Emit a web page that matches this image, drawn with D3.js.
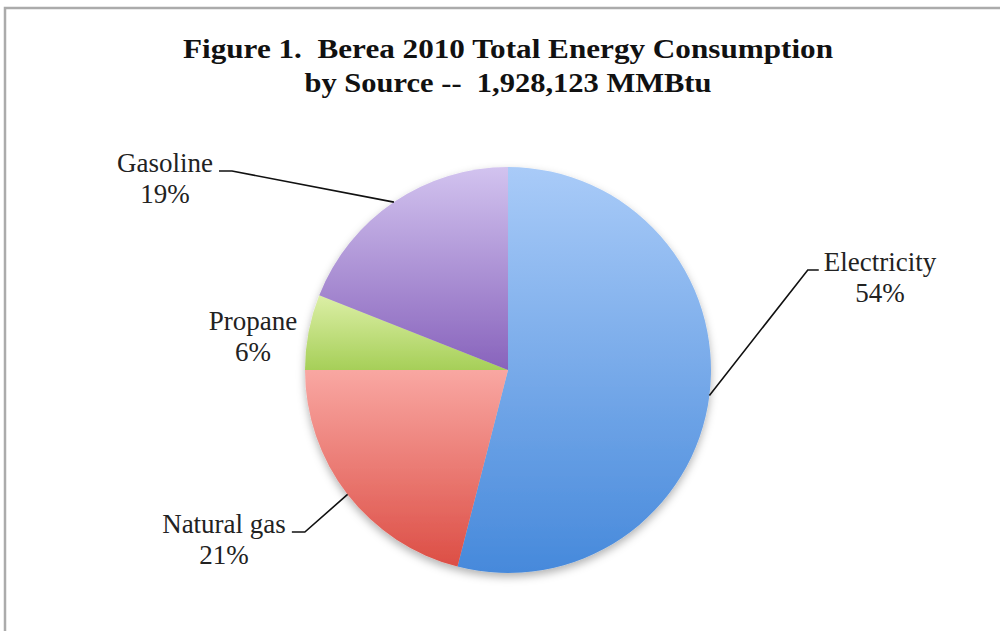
<!DOCTYPE html>
<html>
<head>
<meta charset="utf-8">
<script src="https://cdn.jsdelivr.net/npm/d3@7"></script>
<style>
    body { margin: 0; background: #fff; }
    svg { display: block; }
    .title { font-family: "Liberation Serif", serif; font-weight: bold; font-size: 27px; fill: #111; white-space: pre; }
    .label { font-family: "Liberation Serif", serif; font-size: 27px; fill: #222; }
</style>
</head>
<body>
<script>
    // Chart data
    var sources = ["Electricity", "Natural gas", "Propane", "Gasoline"];
    var shares = [54, 21, 6, 19];
    var titleLines = ["Figure 1.  Berea 2010 Total Energy Consumption", "by Source --  1,928,123 MMBtu"];

    // Gradient colours per slice (top, bottom)
    var topColors = ["#a9cbf8", "#f9a7a2", "#dcefa6", "#d2c3ef"];
    var bottomColors = ["#4689db", "#dc4e45", "#a6cf58", "#8863bc"];

    // Label layout: centre x, first baseline, side of leader
    var labelX = [880, 224, 253, 165];
    var labelY = [271, 533, 330, 172];
    var labelSide = ["right", "left", "none", "left"];

    var width = 1000, height = 631;
    var cx = 508, cy = 370, radius = 203;

    var svg = d3.select("body").append("svg")
        .attr("width", width)
        .attr("height", height);

    // Outer frame (only top and left edges show)
    svg.append("rect")
        .attr("x", 5)
        .attr("y", 8)
        .attr("width", 1100)
        .attr("height", 800)
        .attr("fill", "none")
        .attr("stroke", "#ababab")
        .attr("stroke-width", 2.5);

    var defs = svg.append("defs");

    // Soft shadow under the pie
    var shadow = defs.append("filter")
        .attr("id", "shadow")
        .attr("x", "-20%").attr("y", "-20%")
        .attr("width", "140%").attr("height", "140%");
    shadow.append("feDropShadow")
        .attr("dx", 0)
        .attr("dy", 4)
        .attr("stdDeviation", 4)
        .attr("flood-color", "#000")
        .attr("flood-opacity", 0.3);

    sources.forEach(function (s, i) {
        var g = defs.append("linearGradient")
            .attr("id", "grad" + i)
            .attr("x1", 0).attr("y1", 0)
            .attr("x2", 0).attr("y2", 1);
        g.append("stop").attr("offset", "0%").attr("stop-color", topColors[i]);
        g.append("stop").attr("offset", "100%").attr("stop-color", bottomColors[i]);
    });

    // Title, fitted to the width it has in the figure
    var titleWidths = [650, 407];
    svg.selectAll(".title")
        .data(titleLines)
        .enter()
        .append("text")
        .attr("class", "title")
        .attr("x", 508)
        .attr("y", function (d, i) { return 58 + i * 34; })
        .attr("text-anchor", "middle")
        .attr("textLength", function (d, i) { return titleWidths[i]; })
        .attr("lengthAdjust", "spacingAndGlyphs")
        .text(function (d) { return d; });

    var pie = d3.pie().sort(null).value(function (d) { return d; });
    var arcs = pie(shares);
    var arc = d3.arc().innerRadius(0).outerRadius(radius);

    var pieG = svg.append("g")
        .attr("transform", "translate(" + cx + "," + cy + ")")
        .attr("filter", "url(#shadow)");

    pieG.selectAll("path")
        .data(arcs)
        .enter()
        .append("path")
        .attr("d", arc)
        .attr("fill", function (d, i) { return "url(#grad" + i + ")"; });

    // Labels
    var labels = svg.selectAll(".labelGroup")
        .data(arcs)
        .enter()
        .append("g")
        .attr("class", "labelGroup");

    labels.each(function (d, i) {
        var g = d3.select(this);
        var name = g.append("text")
            .attr("class", "label")
            .attr("x", labelX[i])
            .attr("y", labelY[i])
            .attr("text-anchor", "middle")
            .text(sources[i]);
        g.append("text")
            .attr("class", "label")
            .attr("x", labelX[i])
            .attr("y", labelY[i] + 31)
            .attr("text-anchor", "middle")
            .text(shares[i] + "%");

        if (labelSide[i] === "none") return;

        // Leader line from the slice edge to the label
        var w = name.node().getComputedTextLength();
        var mid = (d.startAngle + d.endAngle) / 2;
        var sx = cx + radius * Math.sin(mid);
        var sy = cy - radius * Math.cos(mid);
        var ey = labelY[i] - 1;
        var ex, kx;
        if (labelSide[i] === "right") {
            ex = labelX[i] - w / 2 - 5;
            kx = ex - 11;
        } else {
            ex = labelX[i] + w / 2 + 6;
            kx = ex + 13;
        }
        g.append("path")
            .attr("d", d3.line()([[sx, sy], [kx, ey], [ex, ey]]))
            .attr("fill", "none")
            .attr("stroke", "#111")
            .attr("stroke-width", 1.6);
    });
</script>
</body>
</html>
